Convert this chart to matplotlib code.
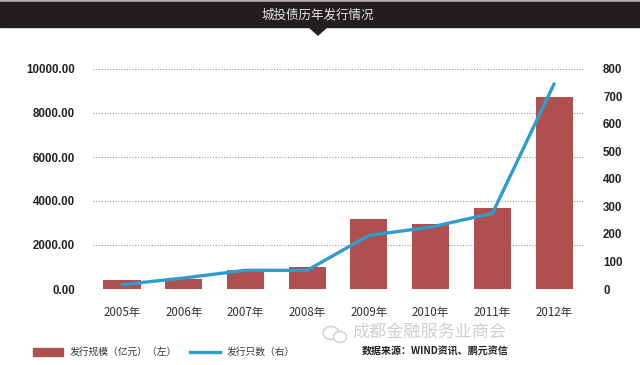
import matplotlib
matplotlib.use("Agg")
import matplotlib.pyplot as plt
from matplotlib.patches import Rectangle, Polygon, Ellipse
from matplotlib.lines import Line2D

plt.rcParams['font.family'] = ['Noto Sans CJK SC', 'DejaVu Sans']

years = ["2005年", "2006年", "2007年", "2008年", "2009年", "2010年", "2011年", "2012年"]
scale = [410, 470, 850, 990, 3180, 2940, 3670, 8740]   # 发行规模（亿元）
counts = [16, 40, 68, 68, 195, 225, 275, 746]          # 发行只数
left_ticks = [0, 2000, 4000, 6000, 8000, 10000]
right_ticks = [0, 100, 200, 300, 400, 500, 600, 700, 800]

numprops = dict(family=['Liberation Sans', 'DejaVu Sans'], fontweight='bold', fontsize=8.3, color='#222222')

W, H = 640, 365
fig = plt.figure(figsize=(6.4, 3.65), dpi=100)
fig.patch.set_facecolor('white')

def fx(px): return px / W
def fy(py): return 1 - py / H

# title band
fig.patches.append(Rectangle((0, fy(2)), 1, 2 / H, transform=fig.transFigure, color='#b0b0b0'))
fig.patches.append(Rectangle((0, fy(27)), 1, 25 / H, transform=fig.transFigure, color='#231f20'))
fig.patches.append(Polygon([(fx(309), fy(27)), (fx(327), fy(27)), (fx(318), fy(35))], closed=True,
                           transform=fig.transFigure, color='#231f20'))
fig.text(fx(318), fy(15), "城投债历年发行情况", color='#e6e6e6', fontsize=9, ha='center', va='center')

ax = fig.add_axes([fx(93), 1 - 289 / H, 492 / W, 220 / H])
x = list(range(len(years)))
ax.bar(x, scale, width=0.6, color='#b04f50', zorder=2)
ax.set_xlim(-0.47, 7.5)
ax.set_ylim(0, 10000)
ax.set_yticks(left_ticks)
ax.set_yticklabels([f"{v:.2f}" for v in left_ticks])
ax.grid(axis='y', color='#9a9a9a', linestyle=(0, (1, 1.5)), linewidth=0.8, zorder=0)
ax.set_xticks(x)
ax.set_xticklabels(years)
for s in ax.spines.values():
    s.set_visible(False)
ax.tick_params(axis='both', length=0)
ax.tick_params(axis='y', pad=13)
ax.tick_params(axis='x', pad=12)
for lab in ax.get_yticklabels():
    lab.set(**numprops)
for lab in ax.get_xticklabels():
    lab.set_fontsize(8.3)
    lab.set_color('#333333')

ax2 = ax.twinx()
ax2.plot(x, counts, color='#2f9dcc', linewidth=2.4, zorder=3, solid_capstyle='round')
ax2.set_ylim(0, 800)
ax2.set_yticks(right_ticks)
for s in ax2.spines.values():
    s.set_visible(False)
ax2.tick_params(axis='y', length=0, pad=13)
for lab in ax2.get_yticklabels():
    lab.set(**numprops)

# watermark (wechat-like icon drawn as shapes + text)
fig.patches.append(Ellipse((fx(331), fy(333)), 16 / W, 13 / H, transform=fig.transFigure,
                           fill=False, edgecolor='#d4d4d4', linewidth=1.2))
fig.patches.append(Ellipse((fx(340), fy(337)), 13 / W, 11 / H, transform=fig.transFigure,
                           facecolor='white', edgecolor='#d4d4d4', linewidth=1.2))
fig.text(fx(352), fy(333), "成都金融服务业商会", color='#cfcfcf', fontsize=12.3, ha='left', va='center')

# legend
fig.patches.append(Rectangle((fx(33), fy(356)), 30 / W, 8 / H, transform=fig.transFigure, color='#b04f50'))
fig.text(fx(70), fy(352), "发行规模（亿元）（左）", color='#333333', fontsize=7, ha='left', va='center')
fig.lines.append(Line2D([fx(190), fx(220)], [fy(352), fy(352)], transform=fig.transFigure,
                        color='#2f9dcc', linewidth=2.4))
fig.text(fx(227), fy(352), "发行只数（右）", color='#333333', fontsize=7, ha='left', va='center')
fig.text(fx(362), fy(352), "数据来源：WIND资讯、鹏元资信", color='#222222', fontsize=7.2,
         ha='left', va='center', fontweight='bold')

fig.savefig("out.png", dpi=100)
